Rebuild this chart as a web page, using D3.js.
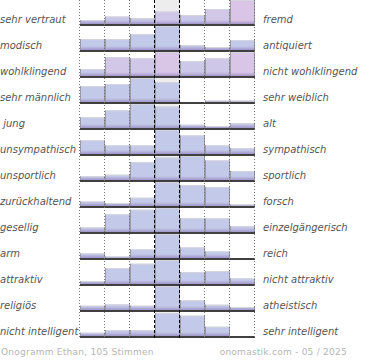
<!DOCTYPE html>
<html><head><meta charset="utf-8">
<script src="https://cdn.jsdelivr.net/npm/d3@7"></script>
<style>body{margin:0;background:#fff}svg{display:block}</style>
</head><body>
<script>
const leftLabels = ["sehr vertraut","modisch","wohlklingend","sehr männlich"," jung","unsympathisch","unsportlich","zurückhaltend","gesellig","arm","attraktiv","religiös","nicht intelligent"];
const rightLabels = ["fremd","antiquiert","nicht wohlklingend","sehr weiblich","alt","sympathisch","sportlich","forsch","einzelgängerisch","reich","nicht attraktiv","atheistisch","sehr intelligent"];
const values = [
  [4, 7.5, 6, 12.5, 9, 15, 24],
  [11, 11, 16, 24, 5, 3, 10],
  [7, 19, 17.7, 24, 15, 17.7, 24],
  [16, 18, 24, 20, 0, 1.5, 1.5],
  [10.7, 17.7, 24, 21.5, 3.3, 2, 4.7],
  [13.6, 8.6, 8.6, 24, 18.6, 8.6, 6],
  [3.7, 5.3, 18, 22.5, 24, 19.6, 9],
  [4.6, 3, 8.3, 24, 21, 19, 1.6],
  [4.6, 17.6, 22.3, 24, 13.8, 13.6, 6],
  [4.6, 1.6, 8.6, 24, 10.6, 6.6, 0],
  [3, 16, 20.3, 24, 12, 13, 5.6],
  [4.3, 5.6, 4.3, 24, 9.6, 5.3, 3],
  [3.3, 6, 6, 23, 20.3, 9.3, 0]
];
// share of female votes per bar (tints the bar pink)
const femaleShare = [
  [0.1,0.15,0.15,0.45,0.2,0.55,0.9],
  [0,0,0,0,0.1,0.1,0],
  [0.1,0.6,0.5,0.8,0.35,0.4,0.8],
  [0,0,0,0,0,0.3,0.3],
  [0,0,0,0,0,0,0],
  [0,0,0,0,0,0,0],
  [0,0,0,0,0,0,0],
  [0,0,0,0,0,0,0],
  [0,0,0,0,0,0,0],
  [0,0,0,0,0,0,0],
  [0,0,0,0,0,0,0],
  [0,0,0,0,0,0,0],
  [0,0,0,0,0,0,0]
];
const steps = [1,2,3,4,5,6,7];
const footerLeft = "Onogramm Ethan, 105 Stimmen";
const footerRight = "onomastik.com - 05 / 2025";

const W = 370, H = 360;
const svg = d3.select("body").append("svg").attr("width", W).attr("height", H);

const x = d3.scaleBand().domain(steps).range([80, 255]).padding(0);
const rowIdx = d3.range(values.length);
const row = d3.scaleBand().domain(rowIdx).range([0, 26 * values.length]).padding(0);
const h = d3.scaleLinear().domain([0, 24]).range([0, 24]);
const color = d3.interpolateRgb("#c3c9e9", "#dec5e6");

const base = i => row(i) + 25;

const g = svg.append("g");

// middle column gray background
g.selectAll("rect.mid").data(rowIdx).join("rect")
  .attr("x", x(4)).attr("width", x.bandwidth())
  .attr("y", i => base(i) - 25).attr("height", 25)
  .attr("fill", "#ededed");

rowIdx.forEach(i => {
  const rg = g.append("g");
  const b = base(i) - 1;
  const data = values[i].map((v, j) => ({v, j, s: femaleShare[i][j]}));
  rg.selectAll("rect.bar").data(data.filter(d => d.v > 0)).join("rect")
    .attr("x", d => x(steps[d.j])).attr("width", x.bandwidth())
    .attr("y", d => b - h(d.v)).attr("height", d => h(d.v))
    .attr("fill", d => color(d.s));
  // bottom shading
  rg.selectAll("rect.shade").data(data.filter(d => d.v > 0)).join("rect")
    .attr("x", d => x(steps[d.j])).attr("width", x.bandwidth())
    .attr("y", d => b - Math.min(h(d.v), 4)).attr("height", d => Math.min(h(d.v), 4))
    .attr("fill", "url(#shade)");
  // top edge
  rg.selectAll("line.top").data(data.filter(d => d.v > 0)).join("line")
    .attr("x1", d => x(steps[d.j])).attr("x2", d => x(steps[d.j]) + x.bandwidth())
    .attr("y1", d => b - h(d.v) + 0.5).attr("y2", d => b - h(d.v) + 0.5)
    .attr("stroke", "#d4d4dc").attr("stroke-width", 1);
  // side edges
  rg.selectAll("line.side").data(data.filter(d => d.v > 0).flatMap(d => [
      {xx: x(steps[d.j]) + 0.5, v: d.v}, {xx: x(steps[d.j]) + x.bandwidth() - 0.5, v: d.v}]))
    .join("line")
    .attr("x1", d => d.xx).attr("x2", d => d.xx)
    .attr("y1", d => b - h(d.v)).attr("y2", b)
    .attr("stroke", "#9a9aa6").attr("stroke-width", 1);
  // baseline
  rg.append("line").attr("x1", 80).attr("x2", 255)
    .attr("y1", base(i)).attr("y2", base(i))
    .attr("stroke", "#000").attr("stroke-width", 1.6);
});

const defs = svg.append("defs");
const lg = defs.append("linearGradient").attr("id", "shade").attr("x1", 0).attr("y1", 0).attr("x2", 0).attr("y2", 1);
lg.append("stop").attr("offset", "0%").attr("stop-color", "#9c8cc4").attr("stop-opacity", 0);
lg.append("stop").attr("offset", "100%").attr("stop-color", "#8e7cbc").attr("stop-opacity", 0.7);

// grid lines
const bottom = base(values.length - 1) + 1;
const edges = [80, ...steps.map(s => x(s) + x.bandwidth())];
g.selectAll("line.dot").data(edges.filter(e => e !== x(4) && e !== x(5))).join("line")
  .attr("x1", d => d - 0.5).attr("x2", d => d - 0.5).attr("y1", 0).attr("y2", bottom)
  .attr("stroke", "#777").attr("stroke-width", 1).attr("stroke-dasharray", "1,2");
g.selectAll("line.dash").data([x(4), x(5)]).join("line")
  .attr("x1", d => d - 0.5).attr("x2", d => d - 0.5).attr("y1", 0).attr("y2", bottom)
  .attr("stroke", "#000").attr("stroke-width", 1).attr("stroke-dasharray", "3,2");

// labels
const font = "DejaVu Sans";
svg.selectAll("text.l").data(leftLabels).join("text")
  .attr("x", 0).attr("y", (d, i) => base(i) - 2)
  .attr("font-family", font).attr("font-size", 10).attr("font-style", "italic")
  .attr("fill", "#555").style("white-space", "pre").text(d => d);
svg.selectAll("text.r").data(rightLabels).join("text")
  .attr("x", 263).attr("y", (d, i) => base(i) - 2)
  .attr("font-family", font).attr("font-size", 10).attr("font-style", "italic")
  .attr("fill", "#555").text(d => d);

svg.append("text").attr("x", 1).attr("y", 355)
  .attr("font-family", font).attr("font-size", 9).attr("letter-spacing", 0.25)
  .attr("fill", "#b5b5b5").text(footerLeft);
svg.append("text").attr("x", 347).attr("y", 355).attr("text-anchor", "end")
  .attr("font-family", font).attr("font-size", 9).attr("letter-spacing", 0.25)
  .attr("fill", "#b5b5b5").text(footerRight);
</script>
</body></html>
